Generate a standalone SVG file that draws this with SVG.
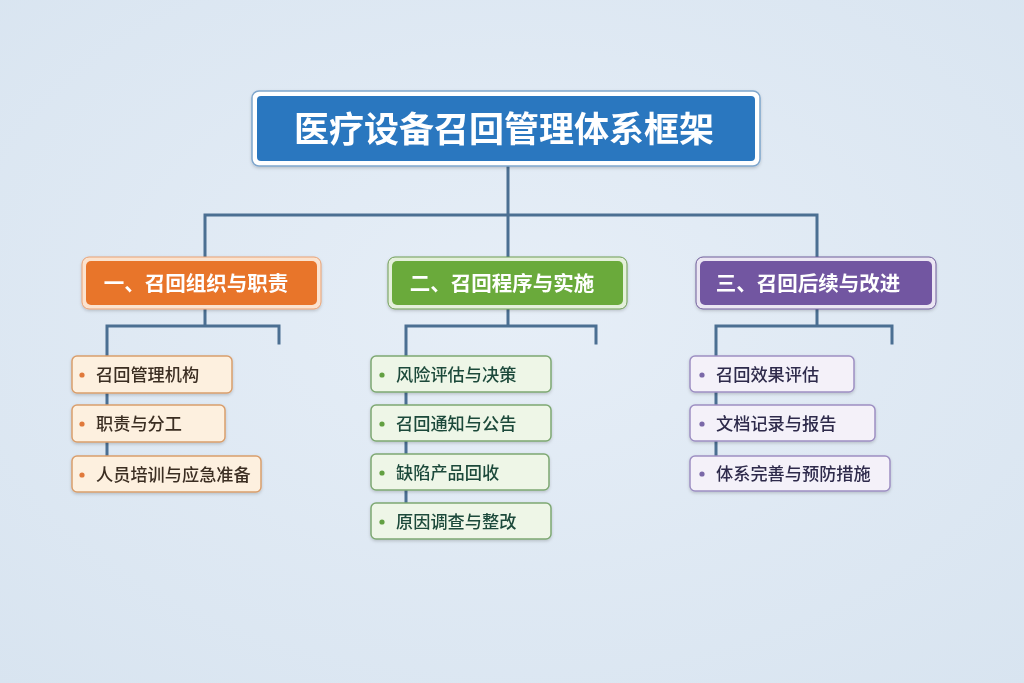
<svg xmlns="http://www.w3.org/2000/svg" width="1024" height="683" viewBox="0 0 1024 683">
<defs>
<radialGradient id="bg" cx="50%" cy="45%" r="75%">
<stop offset="0" stop-color="#e6eef7"/>
<stop offset="1" stop-color="#d8e4f0"/>
</radialGradient>
<filter id="sh" x="-10%" y="-20%" width="120%" height="150%">
<feDropShadow dx="0" dy="1.5" stdDeviation="1.5" flood-color="#000" flood-opacity="0.18"/>
</filter>
</defs>
<style>
text{font-family:"Noto Sans CJK SC","Noto Sans",sans-serif}
.conn{stroke:#4b6f92;stroke-width:3;fill:none;stroke-linecap:square}
.h1{fill:#fff;font-weight:700;font-size:20.5px;text-anchor:middle}
.it{font-size:17.2px;font-weight:500}
.o rect{fill:#fdf0df;stroke:#d99e6c;stroke-width:1.5}
.o text{fill:#3b2d22}
.o circle{fill:#e0793a}
.g rect{fill:#eef6e7;stroke:#7ea873;stroke-width:1.5}
.g text{fill:#1d4a3b}
.g circle{fill:#62a043}
.p rect{fill:#f4f1f9;stroke:#9d8fc2;stroke-width:1.5}
.p text{fill:#2e2b4b}
.p circle{fill:#7a68a8}
</style>
<rect width="1024" height="683" fill="url(#bg)"/>
<g id="connectors">
<path class="conn" d="M508 166V215M205 215H817M205 215V258M508 215V258M817 215V258"/>
<path class="conn" d="M205 308V326M107 326H279M279 326V343M107 326V470"/>
<path class="conn" d="M508 308V326M406 326H596M596 326V343M406 326V520"/>
<path class="conn" d="M817 308V326M716 326H892M892 326V343M716 326V470"/>
</g>
<g id="title" filter="url(#sh)">
<rect x="252" y="91" width="508" height="75" rx="7" fill="#fff" stroke="#7fa6cc" stroke-width="1.5"/>
<rect x="257" y="96" width="498" height="65" rx="4" fill="#2a77bf"/>
<text x="504" y="142" font-size="35" font-weight="700" fill="#fff" text-anchor="middle">医疗设备召回管理体系框架</text>
</g>
<g id="cat1" filter="url(#sh)">
<rect x="82" y="257" width="239" height="52" rx="7" fill="#fbe3cf" stroke="#e9a174" stroke-width="1"/>
<rect x="86" y="261" width="231" height="44" rx="5" fill="#e8742b"/>
<text class="h1" x="196" y="291">一、召回组织与职责</text>
</g>
<g id="cat2" filter="url(#sh)">
<rect x="388" y="257" width="239" height="52" rx="7" fill="#e4f0da" stroke="#6e9c55" stroke-width="1"/>
<rect x="392" y="261" width="231" height="44" rx="5" fill="#6aaa3b"/>
<text class="h1" x="502" y="291">二、召回程序与实施</text>
</g>
<g id="cat3" filter="url(#sh)">
<rect x="696" y="257" width="240" height="52" rx="7" fill="#ebe6f3" stroke="#6f5c9a" stroke-width="1"/>
<rect x="700" y="261" width="232" height="44" rx="5" fill="#7257a1"/>
<text class="h1" x="808" y="291">三、召回后续与改进</text>
</g>
<g id="item1-1" class="o" filter="url(#sh)"><rect x="72" y="356" width="160" height="37" rx="5"/><circle cx="82" cy="375" r="2.6"/><text class="it" x="96" y="381">召回管理机构</text></g>
<g id="item1-2" class="o" filter="url(#sh)"><rect x="72" y="405" width="153" height="37" rx="5"/><circle cx="82" cy="424" r="2.6"/><text class="it" x="96" y="430">职责与分工</text></g>
<g id="item1-3" class="o" filter="url(#sh)"><rect x="72" y="456" width="189" height="36" rx="5"/><circle cx="82" cy="475" r="2.6"/><text class="it" x="96" y="481">人员培训与应急准备</text></g>
<g id="item2-1" class="g" filter="url(#sh)"><rect x="371" y="356" width="180" height="36" rx="5"/><circle cx="382" cy="375" r="2.6"/><text class="it" x="396" y="381">风险评估与决策</text></g>
<g id="item2-2" class="g" filter="url(#sh)"><rect x="371" y="405" width="180" height="36" rx="5"/><circle cx="382" cy="424" r="2.6"/><text class="it" x="396" y="430">召回通知与公告</text></g>
<g id="item2-3" class="g" filter="url(#sh)"><rect x="371" y="454" width="178" height="36" rx="5"/><circle cx="382" cy="473" r="2.6"/><text class="it" x="396" y="479">缺陷产品回收</text></g>
<g id="item2-4" class="g" filter="url(#sh)"><rect x="371" y="503" width="180" height="36" rx="5"/><circle cx="382" cy="522" r="2.6"/><text class="it" x="396" y="528">原因调查与整改</text></g>
<g id="item3-1" class="p" filter="url(#sh)"><rect x="690" y="356" width="164" height="36" rx="5"/><circle cx="702" cy="375" r="2.6"/><text class="it" x="716" y="381">召回效果评估</text></g>
<g id="item3-2" class="p" filter="url(#sh)"><rect x="690" y="405" width="185" height="36" rx="5"/><circle cx="702" cy="424" r="2.6"/><text class="it" x="716" y="430">文档记录与报告</text></g>
<g id="item3-3" class="p" filter="url(#sh)"><rect x="690" y="456" width="200" height="35" rx="5"/><circle cx="702" cy="474" r="2.6"/><text class="it" x="716" y="480">体系完善与预防措施</text></g>
</svg>
